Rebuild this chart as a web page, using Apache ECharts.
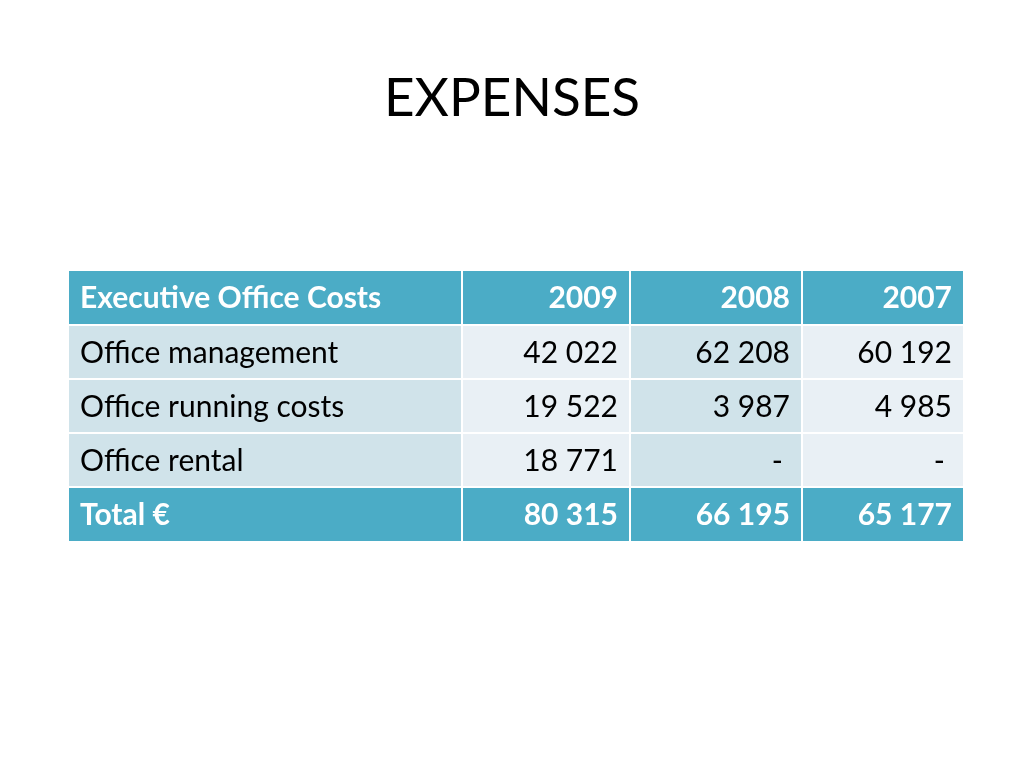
<!DOCTYPE html>
<html lang="en" style="height: 100%">
<head>
  <meta charset="utf-8">
</head>
<body style="height: 100%; margin: 0; background: #fff">
  <div id="container" style="height: 100%"></div>
  <script type="text/javascript" src="https://cdn.jsdelivr.net/npm/echarts@6/dist/echarts.min.js"></script>
  <script>
    // table content
    var headers = ['Executive Office Costs', '2009', '2008', '2007'];
    var rowNames = ['Office management', 'Office running costs', 'Office rental'];
    var v2009 = [42022, 19522, 18771];
    var v2008 = [62208, 3987, null];
    var v2007 = [60192, 4985, null];
    var totalLabel = 'Total €';
    var totals = [80315, 66195, 65177];

    // layout (x axis units = column edges)
    var colEdges = [0, 393, 561, 733, 894];
    var headBlue = '#4BACC6';
    var bandDark = '#D0E3EA';
    var bandLight = '#E9F0F5';
    var fontFam = 'Lato, "Open Sans", sans-serif';

    function fmt(v) {
      if (v === null || v === undefined) return '-';
      return String(v).replace(/\B(?=(\d{3})+(?!\d))/g, ' ');
    }

    var cells = [];
    headers.forEach(function (h, c) { cells.push([c, 0, h, 'head']); });
    rowNames.forEach(function (name, r) {
      var vals = [v2009[r], v2008[r], v2007[r]];
      cells.push([0, r + 1, name, 'body']);
      vals.forEach(function (v, i) { cells.push([i + 1, r + 1, fmt(v), 'body']); });
    });
    cells.push([0, 4, totalLabel, 'head']);
    totals.forEach(function (v, i) { cells.push([i + 1, 4, fmt(v), 'head']); });

    var dom = document.getElementById('container');
    var myChart = echarts.init(dom, null, { renderer: 'canvas' });

    var option = {
      animation: false,
      title: {
        text: 'EXPENSES',
        left: 'center',
        top: 67,
        textStyle: { fontFamily: fontFam, fontWeight: 'normal', fontSize: 53, color: '#000' }
      },
      grid: { left: 69, right: 61, top: 271, height: 270 },
      xAxis: { type: 'value', min: 0, max: 894, show: false },
      yAxis: { type: 'category', data: ['h', 'r1', 'r2', 'r3', 't'], inverse: true, show: false },
      series: [{
        type: 'custom',
        data: cells,
        renderItem: function (params, api) {
          var c = api.value(0), r = api.value(1);
          var d = cells[params.dataIndex];
          var kind = d[3];
          var p0 = api.coord([colEdges[c], r]);
          var p1 = api.coord([colEdges[c + 1], r]);
          var band = api.size([0, 1])[1];
          var x0 = p0[0] + (c > 0 ? 1 : 0);
          var x1 = p1[0] - (c < 3 ? 1 : 0);
          var y0 = p0[1] - band / 2 + (r > 0 ? 1 : 0);
          var y1 = p0[1] + band / 2 - (r < 4 ? 1 : 0);
          var fill = kind === 'head' ? headBlue : (c % 2 === 0 ? bandDark : bandLight);
          var isDash = d[2] === '-';
          var tx = c === 0 ? x0 + 11 : x1 - (isDash ? 18 : 11);
          return {
            type: 'group',
            children: [{
              type: 'rect',
              shape: { x: x0, y: y0, width: x1 - x0, height: y1 - y0 },
              style: { fill: fill }
            }, {
              type: 'text',
              style: {
                x: tx,
                y: (y0 + y1) / 2 + 1,
                text: d[2],
                align: c === 0 ? 'left' : 'right',
                verticalAlign: 'middle',
                fill: kind === 'head' ? '#fff' : '#000',
                font: (kind === 'head' ? 'bold ' : '') + '30px ' + fontFam
              }
            }]
          };
        }
      }]
    };

    myChart.setOption(option);
    window.addEventListener('resize', myChart.resize);
  </script>
</body>
</html>
